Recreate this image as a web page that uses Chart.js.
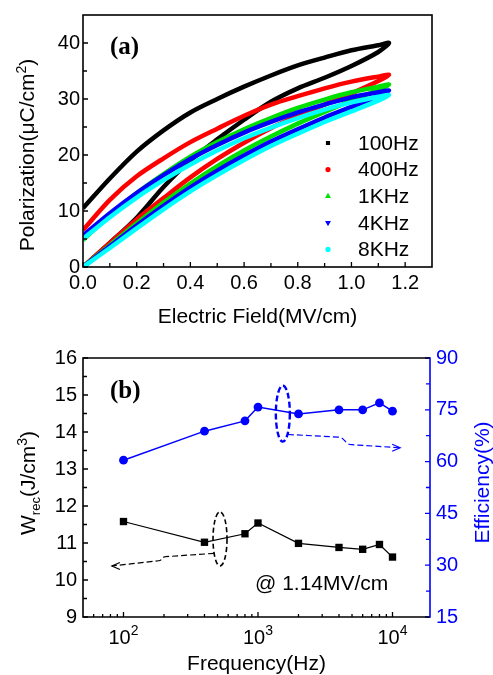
<!DOCTYPE html>
<html><head><meta charset="utf-8">
<script src="https://cdn.jsdelivr.net/npm/chart.js@4.4.0/dist/chart.umd.min.js"></script>
<style>
html,body{margin:0;padding:0;background:#fff;width:493px;height:675px;overflow:hidden;}
#wa{position:absolute;left:0;top:0;width:493px;height:330px;}
#wb{position:absolute;left:0;top:330px;width:493px;height:345px;}
</style></head><body>
<div id="wa"><canvas id="ca" width="493" height="330"></canvas></div>
<div id="wb"><canvas id="cb" width="493" height="345"></canvas></div>
<script>
// ---------- (a) P-E loops ----------
const fieldE = [0, 0.1, 0.2, 0.3, 0.4, 0.5, 0.6, 0.7, 0.8, 0.9, 1.0, 1.1, 1.14];
const freqLabels = ['100Hz', '400Hz', '1KHz', '4KHz', '8KHz'];
const pUp100  = [10.5, 15.8, 20.6, 24.4, 27.6, 30.0, 32.2, 34.2, 36.0, 37.4, 38.7, 39.6, 40.0];
const pLow100 = [0, 4.3, 8.8, 14.3, 19.0, 22.8, 26.3, 29.5, 31.9, 33.8, 35.9, 38.4, 40.0];
const pUp400  = [6.6, 12.0, 16.2, 19.4, 22.3, 24.7, 27.0, 29.0, 30.5, 31.9, 33.1, 34.0, 34.3];
const pLow400 = [0, 4.3, 8.5, 12.3, 16.0, 19.3, 22.2, 24.8, 27.0, 29.0, 31.0, 33.2, 34.3];
const pUp1k   = [4.8, 9.3, 13.2, 16.6, 19.7, 22.3, 24.6, 26.6, 28.4, 29.9, 31.2, 32.2, 32.6];
const pLow1k  = [0, 3.9, 7.8, 11.5, 14.9, 18.0, 20.8, 23.3, 25.6, 27.7, 29.7, 31.6, 32.6];
const pUp4k   = [5.6, 9.6, 13.2, 16.4, 19.3, 21.8, 24.0, 25.9, 27.6, 29.0, 30.3, 31.2, 31.5];
const pLow4k  = [0, 3.7, 7.4, 10.9, 14.2, 17.2, 19.9, 22.4, 24.6, 26.7, 28.6, 30.5, 31.5];
const pUp8k   = [5.0, 8.9, 12.4, 15.5, 18.3, 20.8, 23.0, 24.9, 26.6, 28.1, 29.4, 30.4, 30.7];
const pLow8k  = [0, 3.4, 6.9, 10.3, 13.5, 16.4, 19.1, 21.6, 23.8, 25.9, 27.8, 29.7, 30.7];
const loopColors = ['#000000', '#ff0000', '#00e000', '#0000ff', '#00ffff'];
const xMinorA = [0.1, 0.3, 0.5, 0.7, 0.9, 1.1];
const yMinorA = [5, 15, 25, 35];

// ---------- (b) W_rec & efficiency ----------
const freqHz = [100, 400, 800, 1000, 2000, 4000, 6000, 8000, 10000];
const wrec   = [11.58, 11.02, 11.25, 11.54, 10.99, 10.88, 10.83, 10.96, 10.62];
const effPct = [60.4, 68.8, 71.8, 75.8, 73.8, 75.0, 75.0, 77.0, 74.6];
const xMajorB = [100, 1000, 10000];
const yMinorB = [9.5, 10.5, 11.5, 12.5, 13.5, 14.5, 15.5];
const y1MinorB = [22.5, 37.5, 52.5, 67.5, 82.5];
// annotation guides (data coordinates)
const effEllipse = {f: 1530, v: 73.9};
const effArrowF = [1668, 3945, 4966, 11400];
const effArrowV = [67.85, 67.1, 64.9, 64.0];
const wEllipse = {f: 522, v: 11.11};
const wArrowF = [471, 205, 183, 82];
const wArrowV = [10.72, 10.63, 10.52, 10.38];

const FONT = "'Liberation Sans', Arial, sans-serif";
const SERIF = "'Liberation Serif', 'Times New Roman', serif";
const BLUE = '#0000ff';
Chart.defaults.font.family = FONT;

function loopPoints(low, up) {
  const pts = fieldE.map((e, i) => ({x: e, y: low[i]}));
  for (let i = fieldE.length - 2; i >= 0; i--) pts.push({x: fieldE[i], y: up[i]});
  return pts;
}

function drawRich(ctx, parts, cx, baseY, rot, color) {
  ctx.save();
  ctx.translate(cx, baseY);
  ctx.rotate(rot || 0);
  let w = 0;
  for (const p of parts) { ctx.font = p.size + 'px ' + FONT; w += ctx.measureText(p.t).width; }
  let x = -w / 2;
  ctx.fillStyle = color; ctx.textBaseline = 'alphabetic'; ctx.textAlign = 'left';
  for (const p of parts) {
    ctx.font = p.size + 'px ' + FONT;
    ctx.fillText(p.t, x, p.dy || 0);
    x += ctx.measureText(p.t).width;
  }
  ctx.restore();
}

function tickLines(ctx, scale, values, len, side) {
  const a = scale.chart.chartArea;
  ctx.beginPath();
  for (const v of values) {
    const p = scale.getPixelForValue(v);
    if (side === 'bottom') { ctx.moveTo(p, a.bottom); ctx.lineTo(p, a.bottom - len); }
    else if (side === 'left') { ctx.moveTo(a.left, p); ctx.lineTo(a.left + len, p); }
    else { ctx.moveTo(a.right, p); ctx.lineTo(a.right - len, p); }
  }
  ctx.stroke();
}

// ---------- chart (a) ----------
const frameA = {
  id: 'frameA',
  afterDatasetsDraw(chart) {
    const ctx = chart.ctx, a = chart.chartArea, sx = chart.scales.x, sy = chart.scales.y;
    ctx.save();
    ctx.strokeStyle = '#000'; ctx.lineWidth = 1.3;
    tickLines(ctx, sx, sx.ticks.map(t => t.value), 5, 'bottom');
    tickLines(ctx, sx, xMinorA, 4, 'bottom');
    tickLines(ctx, sy, sy.ticks.map(t => t.value), 5, 'left');
    tickLines(ctx, sy, yMinorA, 4, 'left');
    ctx.lineWidth = 1.6;
    ctx.strokeRect(a.left, a.top, a.right - a.left, a.bottom - a.top);
    // panel label
    ctx.fillStyle = '#000';
    ctx.font = 'bold 25px ' + SERIF;
    ctx.textAlign = 'left'; ctx.textBaseline = 'middle';
    ctx.fillText('(a)', a.left + 27, a.top + 33);
    // legend
    chart.data.datasets.forEach((ds, i) => {
      const y = a.top + 128 + i * 26.6;
      ctx.fillStyle = ds.borderColor; ctx.strokeStyle = ds.borderColor;
      Chart.helpers.drawPoint(ctx, {pointStyle: ds.legendStyle, radius: 1.8, rotation: ds.legendRot || 0, borderWidth: 0.8}, a.left + 245, y);
      ctx.fillStyle = '#000';
      ctx.font = '21px ' + FONT; ctx.textAlign = 'left'; ctx.textBaseline = 'middle';
      ctx.fillText(ds.label, a.left + 275, y + 1);
    });
    // axis titles
    drawRich(ctx, [{t: 'Electric Field(MV/cm)', size: 21}], (a.left + a.right) / 2, 323, 0, '#000');
    drawRich(ctx, [{t: 'Polarization(μC/cm', size: 21}, {t: '2', size: 14, dy: -8}, {t: ')', size: 21}], 34, 155, -Math.PI / 2, '#000');
    ctx.restore();
  }
};

const loops = [[pLow100, pUp100], [pLow400, pUp400], [pLow1k, pUp1k], [pLow4k, pUp4k], [pLow8k, pUp8k]];
const legendStyles = ['rect', 'circle', 'triangle', 'triangle', 'circle'];
new Chart(document.getElementById('ca'), {
  type: 'line',
  data: {
    datasets: loops.map((lp, i) => ({
      label: freqLabels[i],
      data: loopPoints(lp[0], lp[1]),
      borderColor: loopColors[i],
      backgroundColor: loopColors[i],
      borderWidth: 4.5,
      pointRadius: 0,
      tension: 0.3,
      fill: false,
      order: 5 - i,
      legendStyle: legendStyles[i],
      legendRot: i === 3 ? 180 : 0
    }))
  },
  options: {
    responsive: false, animation: false, devicePixelRatio: 1,
    layout: {padding: {left: 0, right: 61, top: 8, bottom: 0}},
    plugins: {legend: {display: false}, tooltip: {enabled: false}},
    scales: {
      x: {type: 'linear', min: 0, max: 1.3,
        grid: {display: false, drawTicks: false}, border: {display: false},
        ticks: {stepSize: 0.2, includeBounds: false, padding: 4, maxRotation: 0, autoSkip: false,
          font: {size: 20}, color: '#000', callback: v => Number(v).toFixed(1)},
        afterFit: s => { s.height = 63; }},
      y: {type: 'linear', min: 0, max: 45,
        grid: {display: false, drawTicks: false}, border: {display: false},
        ticks: {stepSize: 10, includeBounds: false, padding: 3, font: {size: 20}, color: '#000'},
        afterFit: s => { s.width = 83; }}
    }
  },
  plugins: [frameA]
});

// ---------- chart (b) ----------
function logMinor(min, max) {
  const out = [];
  for (let e = 1; e <= 4; e++) for (let m = 2; m <= 9; m++) {
    const v = m * Math.pow(10, e);
    if (v > min && v < max) out.push(v);
  }
  return out;
}

const frameB = {
  id: 'frameB',
  afterDatasetsDraw(chart) {
    const ctx = chart.ctx, a = chart.chartArea, sx = chart.scales.x, sy = chart.scales.y, sy1 = chart.scales.y1;
    ctx.save();
    // guides
    ctx.lineCap = 'butt';
    ctx.strokeStyle = BLUE; ctx.lineWidth = 2.4; ctx.setLineDash([6, 3]);
    ctx.beginPath();
    ctx.ellipse(sx.getPixelForValue(effEllipse.f), sy1.getPixelForValue(effEllipse.v), 7, 28, 0, 0, Math.PI * 2);
    ctx.stroke();
    const bp = effArrowF.map((f, i) => [sx.getPixelForValue(f), sy1.getPixelForValue(effArrowV[i])]);
    ctx.lineWidth = 1.2; ctx.setLineDash([6, 3]);
    ctx.beginPath();
    ctx.moveTo(bp[0][0], bp[0][1]); ctx.lineTo(bp[1][0], bp[1][1]);
    let mx = (bp[1][0] + bp[2][0]) / 2;
    ctx.bezierCurveTo(mx, bp[1][1], mx, bp[2][1], bp[2][0], bp[2][1]);
    ctx.lineTo(bp[3][0], bp[3][1]);
    ctx.stroke();
    ctx.setLineDash([]);
    ctx.beginPath();
    ctx.moveTo(bp[3][0] - 8, bp[3][1] - 3.5); ctx.lineTo(bp[3][0], bp[3][1]); ctx.lineTo(bp[3][0] - 8, bp[3][1] + 3.5);
    ctx.stroke();

    ctx.strokeStyle = '#000'; ctx.lineWidth = 1.6; ctx.setLineDash([5, 3]);
    ctx.beginPath();
    ctx.ellipse(sx.getPixelForValue(wEllipse.f), sy.getPixelForValue(wEllipse.v), 7, 27, 0, 0, Math.PI * 2);
    ctx.stroke();
    const kp = wArrowF.map((f, i) => [sx.getPixelForValue(f), sy.getPixelForValue(wArrowV[i])]);
    ctx.lineWidth = 1.2; ctx.setLineDash([6, 3]);
    ctx.beginPath();
    ctx.moveTo(kp[0][0], kp[0][1]); ctx.lineTo(kp[1][0], kp[1][1]);
    mx = (kp[1][0] + kp[2][0]) / 2;
    ctx.bezierCurveTo(mx, kp[1][1], mx, kp[2][1], kp[2][0], kp[2][1]);
    ctx.lineTo(kp[3][0], kp[3][1]);
    ctx.stroke();
    ctx.setLineDash([]);
    ctx.beginPath();
    ctx.moveTo(kp[3][0] + 8, kp[3][1] - 3.5); ctx.lineTo(kp[3][0], kp[3][1]); ctx.lineTo(kp[3][0] + 8, kp[3][1] + 3.5);
    ctx.stroke();

    // ticks
    ctx.strokeStyle = '#000'; ctx.lineWidth = 1.3;
    tickLines(ctx, sx, xMajorB, 5, 'bottom');
    tickLines(ctx, sx, logMinor(sx.min, sx.max), 3, 'bottom');
    tickLines(ctx, sy, sy.ticks.map(t => t.value), 5, 'left');
    tickLines(ctx, sy, yMinorB, 4, 'left');
    ctx.strokeStyle = BLUE;
    tickLines(ctx, sy1, sy1.ticks.map(t => t.value), 5, 'right');
    tickLines(ctx, sy1, y1MinorB, 4, 'right');
    // frame
    ctx.lineWidth = 1.6; ctx.strokeStyle = '#000';
    ctx.beginPath();
    ctx.moveTo(a.right, a.top); ctx.lineTo(a.left, a.top); ctx.lineTo(a.left, a.bottom); ctx.lineTo(a.right, a.bottom);
    ctx.stroke();
    ctx.strokeStyle = BLUE;
    ctx.beginPath(); ctx.moveTo(a.right, a.top - 0.8); ctx.lineTo(a.right, a.bottom + 0.8); ctx.stroke();

    // x tick labels 10^n
    xMajorB.forEach(v => {
      const n = Math.round(Math.log10(v));
      drawRich(ctx, [{t: '10', size: 20}, {t: String(n), size: 14, dy: -9}], sx.getPixelForValue(v), a.bottom + 27, 0, '#000');
    });
    // texts
    ctx.fillStyle = '#000';
    ctx.font = 'bold 25px ' + SERIF; ctx.textAlign = 'left'; ctx.textBaseline = 'middle';
    ctx.fillText('(b)', a.left + 27, a.top + 34);
    ctx.font = '21px ' + FONT;
    ctx.fillText('@ 1.14MV/cm', 255, 254);
    drawRich(ctx, [{t: 'Frequency(Hz)', size: 21}], (a.left + a.right) / 2, 340, 0, '#000');
    drawRich(ctx, [{t: 'W', size: 21}, {t: 'rec', size: 13, dy: 5}, {t: '(J/cm', size: 21}, {t: '3', size: 14, dy: -8}, {t: ')', size: 21}], 35, 153, -Math.PI / 2, '#000');
    drawRich(ctx, [{t: 'Efficiency(%)', size: 21}], 489, 152.5, -Math.PI / 2, BLUE);
    ctx.restore();
  }
};

new Chart(document.getElementById('cb'), {
  type: 'line',
  data: {
    datasets: [
      {label: 'W_rec', yAxisID: 'y', data: freqHz.map((f, i) => ({x: f, y: wrec[i]})),
        borderColor: '#000', backgroundColor: '#000', borderWidth: 1.2,
        pointStyle: 'rect', pointRadius: 5.2, pointBorderWidth: 0, tension: 0},
      {label: 'Efficiency', yAxisID: 'y1', data: freqHz.map((f, i) => ({x: f, y: effPct[i]})),
        borderColor: BLUE, backgroundColor: BLUE, borderWidth: 1.4,
        pointStyle: 'circle', pointRadius: 4.4, pointBorderWidth: 0, tension: 0}
    ]
  },
  options: {
    responsive: false, animation: false, devicePixelRatio: 1,
    layout: {padding: {left: 0, right: 0, top: 28, bottom: 0}},
    plugins: {legend: {display: false}, tooltip: {enabled: false}},
    scales: {
      x: {type: 'logarithmic', min: 50, max: 19000,
        grid: {display: false, drawTicks: false}, border: {display: false},
        ticks: {display: false},
        afterFit: s => { s.height = 58; }},
      y: {type: 'linear', position: 'left', min: 9, max: 16,
        grid: {display: false, drawTicks: false}, border: {display: false},
        ticks: {stepSize: 1, padding: 6, font: {size: 20}, color: '#000'},
        afterFit: s => { s.width = 83; }},
      y1: {type: 'linear', position: 'right', min: 15, max: 90,
        grid: {display: false, drawTicks: false}, border: {display: false},
        ticks: {stepSize: 15, padding: 6, font: {size: 20}, color: BLUE},
        afterFit: s => { s.width = 63; }}
    }
  },
  plugins: [frameB]
});
</script>
</body></html>
